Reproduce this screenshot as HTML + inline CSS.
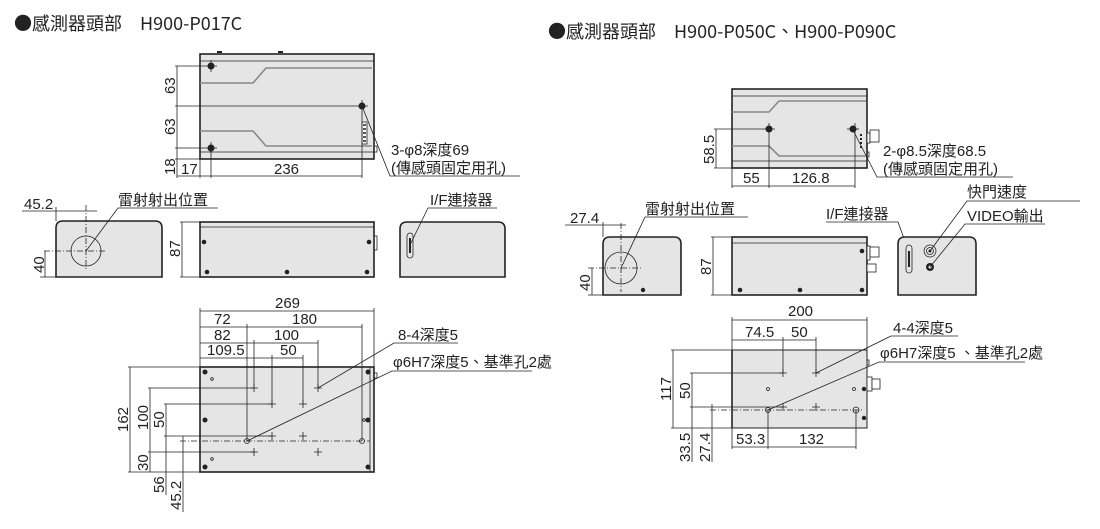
<!DOCTYPE html>
<html><head><meta charset="utf-8"><style>
html,body{margin:0;padding:0;background:#fff;}
svg{display:block;}
text{font-family:"Liberation Sans","Noto Sans CJK TC",sans-serif;fill:#222;}
.t{font-size:15px;}
.h{font-family:"Noto Sans CJK TC",sans-serif;font-size:18px;}
.b{fill:#e5e5e5;stroke:#222;stroke-width:1.6;}
.l{stroke:#222;stroke-width:0.8;fill:none;}
.g{stroke:#888;stroke-width:1.6;fill:none;}
.d{stroke:#222;stroke-width:0.8;fill:none;stroke-dasharray:6 2 1 2;}
.k{fill:#222;}
</style></head><body>
<svg width="1100" height="529" viewBox="0 0 1100 529" xmlns="http://www.w3.org/2000/svg">
<text class="h" x="14" y="30">●感測器頭部　H900-P017C</text>
<text class="h" x="548" y="38">●感測器頭部　H900-P050C、H900-P090C</text>

<!-- LEFT TOP VIEW -->
<rect class="b" x="200" y="54" width="174" height="105"/>
<line class="l" x1="200" y1="61" x2="374" y2="61"/>
<line class="l" x1="200" y1="152" x2="374" y2="152"/>
<polyline class="g" points="200,83 253,83 266,68 372,68"/>
<polyline class="g" points="200,131 253,131 266,146 372,146"/>
<rect class="l" x="362" y="122" width="5" height="22" style="fill:#fff"/>
<path d="M363,125h3M363,129h3M363,133h3M363,137h3M363,141h3" class="l" style="stroke-width:1.5"/>
<rect class="l" x="374" y="146" width="3" height="6"/>
<line class="l" x1="217" y1="52" x2="222" y2="52" style="stroke-width:2"/>
<line class="l" x1="278" y1="52" x2="283" y2="52" style="stroke-width:2"/>
<circle class="k" cx="211" cy="66" r="3.5"/><circle class="k" cx="362" cy="106" r="3.5"/><circle class="k" cx="211" cy="148" r="3.5"/>
<line class="l" x1="175" y1="66" x2="217" y2="66"/><line class="l" x1="211" y1="60" x2="211" y2="72"/>
<line class="l" x1="175" y1="106" x2="368" y2="106"/><line class="l" x1="362" y1="100" x2="362" y2="178"/>
<line class="l" x1="175" y1="148" x2="217" y2="148"/><line class="l" x1="211" y1="142" x2="211" y2="178"/>
<line class="l" x1="177" y1="66" x2="177" y2="178"/>
<line class="l" x1="175" y1="159" x2="200" y2="159"/>
<line class="l" x1="200" y1="159" x2="200" y2="178"/>
<line class="l" x1="177" y1="176" x2="362" y2="176"/>
<text class="t" transform="translate(175,94) rotate(-90)">63</text>
<text class="t" transform="translate(175,135) rotate(-90)">63</text>
<text class="t" transform="translate(175,175) rotate(-90)">18</text>
<text class="t" x="181" y="174">17</text>
<text class="t" x="274" y="174">236</text>
<polyline class="l" points="362,106 390,176 520,176"/>
<text class="t" x="391" y="155">3-φ8深度69</text>
<text class="t" x="391" y="173">(傳感頭固定用孔)</text>

<!-- LEFT FRONT VIEW -->
<path class="b" d="M56,277 V228 Q56,221 63,221 H155 Q162,221 162,228 V277 Z"/>
<circle class="l" cx="86" cy="251" r="15"/>
<line class="d" x1="86" y1="205" x2="86" y2="270"/>
<line class="d" x1="44" y1="251" x2="107" y2="251"/>
<line class="l" x1="22" y1="211" x2="97" y2="211"/>
<line class="l" x1="56" y1="207" x2="56" y2="221"/>
<line class="l" x1="45" y1="251" x2="45" y2="277"/>
<line class="l" x1="40" y1="277" x2="56" y2="277"/>
<text class="t" x="24" y="209">45.2</text>
<text class="t" transform="translate(44,273) rotate(-90)">40</text>
<polyline class="l" points="86,251 118,208 218,208"/>
<text class="t" x="118" y="205">雷射射出位置</text>

<!-- LEFT SIDE VIEW -->
<rect class="b" x="200" y="222" width="174" height="55"/>
<line class="l" x1="200" y1="227" x2="374" y2="227"/>
<rect class="l" x="374" y="236" width="3" height="14"/>
<circle class="k" cx="204" cy="242" r="2.3"/><circle class="k" cx="369" cy="242" r="2.3"/>
<circle class="k" cx="207" cy="272" r="2.3"/><circle class="k" cx="287" cy="272" r="2.3"/><circle class="k" cx="367" cy="272" r="2.3"/>
<line class="l" x1="182" y1="222" x2="182" y2="277"/>
<line class="l" x1="180" y1="222" x2="200" y2="222"/><line class="l" x1="180" y1="277" x2="200" y2="277"/>
<text class="t" transform="translate(180,257) rotate(-90)">87</text>

<!-- LEFT END VIEW -->
<path class="b" d="M400,277 V229 Q400,222 407,222 H498 Q505,222 505,229 V277 Z"/>
<rect class="l" x="407" y="233" width="6" height="25" rx="3"/>
<rect class="k" x="409" y="238" width="2" height="15"/>
<polyline class="l" points="410,245 428,208 497,208"/>
<text class="t" x="430" y="205">I/F連接器</text>

<!-- LEFT BOTTOM VIEW -->
<rect class="b" x="200" y="367" width="174" height="105"/>
<line class="l" x1="370" y1="367" x2="370" y2="472"/>
<rect class="l" x="374" y="373" width="3" height="5"/>
<g class="k"><circle cx="205" cy="372" r="2.5"/><circle cx="368" cy="372" r="2.5"/><circle cx="205" cy="420" r="2.5"/><circle cx="368" cy="420" r="2.5"/><circle cx="205" cy="467" r="2.5"/><circle cx="368" cy="467" r="2.5"/></g>
<circle class="l" cx="212" cy="379" r="1.3"/><circle class="l" cx="212" cy="459" r="1.3"/><circle class="l" cx="364" cy="420" r="1.3"/>
<line class="l" x1="200" y1="311" x2="374" y2="311"/>
<line class="l" x1="200" y1="308" x2="200" y2="367"/><line class="l" x1="374" y1="308" x2="374" y2="367"/>
<text class="t" x="275" y="308">269</text>
<line class="l" x1="200" y1="327" x2="362" y2="327"/>
<text class="t" x="214" y="324">72</text><text class="t" x="292" y="324">180</text>
<line class="l" x1="247" y1="324" x2="247" y2="441"/>
<line class="l" x1="362" y1="324" x2="362" y2="441"/>
<line class="l" x1="200" y1="343" x2="318" y2="343"/>
<text class="t" x="214" y="340">82</text><text class="t" x="274" y="340">100</text>
<line class="l" x1="254" y1="340" x2="254" y2="388"/>
<line class="l" x1="318" y1="340" x2="318" y2="388"/>
<line class="l" x1="200" y1="358" x2="303" y2="358"/>
<text class="t" x="207" y="355">109.5</text><text class="t" x="280" y="355">50</text>
<line class="l" x1="272" y1="355" x2="272" y2="404"/>
<line class="l" x1="303" y1="355" x2="303" y2="404"/>
<g class="l">
<path d="M250,388h8M254,384v8M314,388h8M318,384v8M268,404h8M272,400v8M299,404h8M303,400v8M268,436h8M272,432v8M299,436h8M303,432v8M250,452h8M254,448v8M314,452h8M318,448v8"/>
</g>
<circle class="l" cx="247" cy="441" r="2.5"/><circle class="l" cx="362" cy="441" r="2.5"/>
<line class="d" x1="180" y1="441" x2="370" y2="441"/>
<line class="l" x1="130" y1="367" x2="130" y2="472"/>
<line class="l" x1="128" y1="367" x2="200" y2="367"/>
<line class="l" x1="128" y1="472" x2="200" y2="472"/>
<line class="l" x1="150" y1="388" x2="150" y2="472"/>
<line class="l" x1="148" y1="388" x2="254" y2="388"/>
<line class="l" x1="148" y1="452" x2="254" y2="452"/>
<line class="l" x1="166" y1="404" x2="166" y2="495"/>
<line class="l" x1="164" y1="404" x2="272" y2="404"/>
<line class="l" x1="164" y1="436" x2="272" y2="436"/>
<line class="l" x1="183" y1="436" x2="183" y2="512"/>
<text class="t" transform="translate(128,432) rotate(-90)">162</text>
<text class="t" transform="translate(148,430) rotate(-90)">100</text>
<text class="t" transform="translate(164,428) rotate(-90)">50</text>
<text class="t" transform="translate(148,471) rotate(-90)">30</text>
<text class="t" transform="translate(164,493) rotate(-90)">56</text>
<text class="t" transform="translate(181,510) rotate(-90)">45.2</text>
<polyline class="l" points="318,388 394,343 458,343"/>
<text class="t" x="398" y="340">8-4深度5</text>
<polyline class="l" points="247,441 392,371 532,371"/>
<text class="t" x="393" y="367">φ6H7深度5、基準孔2處</text>

<!-- RIGHT TOP VIEW -->
<rect class="b" x="732" y="89" width="135" height="79"/>
<line class="l" x1="732" y1="96" x2="867" y2="96"/>
<line class="l" x1="732" y1="161" x2="867" y2="161"/>
<polyline class="g" points="732,112 769,112 779,101 866,101"/>
<polyline class="g" points="732,146 769,146 779,156 866,156"/>
<path d="M860,135h2M860,139h2M860,143h2M860,147h2" class="l" style="stroke-width:2"/>
<rect class="l" x="867" y="133" width="3" height="10" style="fill:#fff"/>
<rect class="l" x="870" y="130" width="9" height="12" style="fill:#fff"/>
<rect class="l" x="867" y="152" width="2" height="5"/>
<circle class="k" cx="769" cy="129" r="3.5"/><circle class="k" cx="853" cy="129" r="3.5"/>
<line class="l" x1="714" y1="129" x2="775" y2="129"/><line class="l" x1="847" y1="129" x2="859" y2="129"/>
<line class="l" x1="769" y1="123" x2="769" y2="188"/><line class="l" x1="855" y1="123" x2="855" y2="188"/>
<line class="l" x1="716" y1="129" x2="716" y2="168"/><line class="l" x1="714" y1="168" x2="732" y2="168"/>
<line class="l" x1="732" y1="168" x2="732" y2="188"/>
<line class="l" x1="732" y1="186" x2="855" y2="186"/>
<text class="t" transform="translate(714,164) rotate(-90)">58.5</text>
<text class="t" x="743" y="183">55</text><text class="t" x="792" y="183">126.8</text>
<polyline class="l" points="853,130 877,177 1013,177"/>
<text class="t" x="883" y="156">2-φ8.5深度68.5</text>
<text class="t" x="883" y="174">(傳感頭固定用孔)</text>

<!-- RIGHT FRONT VIEW -->
<path class="b" d="M603,295 V244 Q603,237 610,237 H674 Q681,237 681,244 V295 Z"/>
<circle class="l" cx="621" cy="268" r="16"/>
<line class="d" x1="621" y1="223" x2="621" y2="292"/>
<line class="d" x1="588" y1="268" x2="642" y2="268"/>
<line class="l" x1="565" y1="225" x2="626" y2="225"/>
<line class="l" x1="603" y1="222" x2="603" y2="237"/>
<line class="l" x1="592" y1="268" x2="592" y2="295"/>
<line class="l" x1="588" y1="295" x2="603" y2="295"/>
<circle class="k" cx="643" cy="290" r="2.2"/>
<text class="t" x="570" y="223">27.4</text>
<text class="t" transform="translate(590,291) rotate(-90)">40</text>
<polyline class="l" points="621,268 645,217 748,217"/>
<text class="t" x="645" y="214">雷射射出位置</text>

<!-- RIGHT SIDE VIEW -->
<rect class="b" x="732" y="237" width="135" height="58"/>
<line class="l" x1="732" y1="243" x2="867" y2="243"/>
<rect class="l" x="867" y="246" width="3" height="14" style="fill:#fff"/>
<rect class="l" x="870" y="247" width="9" height="10" style="fill:#fff"/>
<rect class="l" x="867" y="264" width="9" height="8" style="fill:#fff"/>
<circle class="k" cx="862" cy="251" r="2.3"/>
<circle class="k" cx="740" cy="290" r="2.3"/><circle class="k" cx="800" cy="290" r="2.3"/><circle class="k" cx="862" cy="290" r="2.3"/>
<line class="l" x1="713" y1="237" x2="713" y2="295"/>
<line class="l" x1="711" y1="237" x2="732" y2="237"/><line class="l" x1="711" y1="295" x2="732" y2="295"/>
<text class="t" transform="translate(711,275) rotate(-90)">87</text>
<polyline class="l" points="910,255 898,222 826,222"/>
<text class="t" x="826" y="219">I/F連接器</text>

<!-- RIGHT END VIEW -->
<path class="b" d="M898,295 V244 Q898,237 905,237 H969 Q976,237 976,244 V295 Z"/>
<rect class="l" x="906" y="245" width="6" height="28" rx="3"/>
<rect class="k" x="908" y="251" width="2" height="16"/>
<circle class="l" cx="930" cy="251" r="6"/><circle class="l" cx="930" cy="251" r="3.5"/><circle class="k" cx="930" cy="251" r="1.5"/>
<circle class="k" cx="930" cy="267" r="4"/><circle cx="930" cy="267" r="1.5" fill="#e5e5e5"/>
<polyline class="l" points="930,251 967,201 1080,201"/>
<text class="t" x="967" y="197">快門速度</text>
<polyline class="l" points="930,267 965,224 1045,224"/>
<text class="t" x="967" y="221">VIDEO輸出</text>

<!-- RIGHT BOTTOM VIEW -->
<rect class="b" x="732" y="350" width="135" height="78" style="stroke-width:1"/>
<line class="l" x1="732" y1="350" x2="732" y2="428" style="stroke-width:1.6"/>
<rect class="l" x="867" y="360" width="2" height="5"/>
<rect class="l" x="867" y="377" width="5" height="14" style="fill:#fff"/>
<rect class="l" x="872" y="379" width="8" height="10" style="fill:#fff"/>
<circle class="l" cx="768" cy="389" r="1.5"/><circle class="l" cx="854" cy="389" r="1.5"/>
<circle class="k" cx="864" cy="389" r="2.2"/><circle class="k" cx="864" cy="418" r="2.2"/>
<line class="l" x1="732" y1="320" x2="867" y2="320"/>
<line class="l" x1="732" y1="317" x2="732" y2="350"/><line class="l" x1="867" y1="317" x2="867" y2="350"/>
<text class="t" x="788" y="316">200</text>
<line class="l" x1="732" y1="340" x2="816" y2="340"/>
<text class="t" x="745" y="337">74.5</text><text class="t" x="791" y="337">50</text>
<line class="l" x1="783" y1="337" x2="783" y2="373"/><line class="l" x1="816" y1="337" x2="816" y2="373"/>
<g class="l"><path d="M779,373h8M783,369v8M812,373h8M816,369v8M779,407h8M783,403v8M812,407h8M816,403v8"/></g>
<circle class="l" cx="768" cy="410" r="2.5"/><circle class="l" cx="856" cy="410" r="3"/>
<line class="d" x1="710" y1="410" x2="864" y2="410"/>
<line class="l" x1="673" y1="350" x2="673" y2="428"/>
<line class="l" x1="671" y1="350" x2="732" y2="350"/><line class="l" x1="671" y1="428" x2="732" y2="428"/>
<line class="l" x1="692" y1="373" x2="692" y2="462"/>
<line class="l" x1="690" y1="373" x2="783" y2="373"/><line class="l" x1="690" y1="407" x2="783" y2="407"/>
<line class="l" x1="712" y1="404" x2="712" y2="462"/>
<line class="l" x1="768" y1="410" x2="768" y2="449"/><line class="l" x1="856" y1="410" x2="856" y2="449"/>
<line class="l" x1="732" y1="428" x2="732" y2="449"/>
<line class="l" x1="732" y1="447" x2="856" y2="447"/>
<text class="t" transform="translate(671,401) rotate(-90)">117</text>
<text class="t" transform="translate(690,399) rotate(-90)">50</text>
<text class="t" transform="translate(690,462) rotate(-90)">33.5</text>
<text class="t" transform="translate(710,462) rotate(-90)">27.4</text>
<text class="t" x="736" y="444">53.3</text><text class="t" x="799" y="444">132</text>
<polyline class="l" points="816,373 891,336 958,336"/>
<text class="t" x="893" y="333">4-4深度5</text>
<polyline class="l" points="768,410 879,362 1025,362"/>
<text class="t" x="880" y="358">φ6H7深度5 、基準孔2處</text>
</svg>
</body></html>
